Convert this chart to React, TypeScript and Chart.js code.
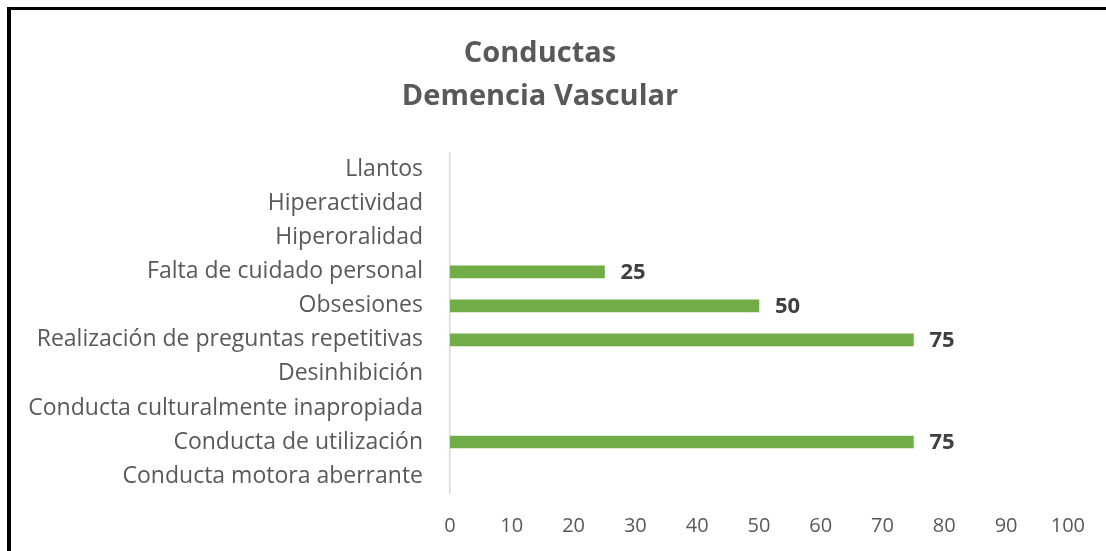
import React, { useEffect, useRef } from "react";
import { Chart, registerables } from "chart.js";

Chart.register(...registerables);

const categories = [
  "Llantos",
  "Hiperactividad",
  "Hiperoralidad",
  "Falta de cuidado personal",
  "Obsesiones",
  "Realización de preguntas repetitivas",
  "Desinhibición",
  "Conducta culturalmente inapropiada",
  "Conducta de utilización",
  "Conducta motora aberrante",
];
const values = [0, 0, 0, 25, 50, 75, 0, 0, 75, 0];
const titleLines = ["Conductas", "Demencia Vascular"];
const xMin = 0;
const xMax = 100;
const xStep = 10;

const FONT = "'Open Sans', Lato, sans-serif";

const labelPlugin = {
  id: "barValueLabels",
  afterDatasetsDraw(chart: any) {
    const ctx = chart.ctx;
    const meta = chart.getDatasetMeta(0);
    ctx.save();
    ctx.font = `bold 22px ${FONT}`;
    ctx.fillStyle = "#404040";
    ctx.textAlign = "left";
    ctx.textBaseline = "middle";
    meta.data.forEach((bar: any, i: number) => {
      const v = values[i];
      if (!v) return;
      ctx.fillText(String(v), bar.x + 16, bar.y + 1);
    });
    ctx.restore();
  },
};

export default function App() {
  const ref = useRef<HTMLCanvasElement>(null);
  useEffect(() => {
    document.body.style.margin = "0";
    const chart = new Chart(ref.current as HTMLCanvasElement, {
      type: "bar",
      data: {
        labels: categories,
        datasets: [
          {
            data: values.map((v) => (v === 0 ? null : v)),
            backgroundColor: "#70ad47",
            borderWidth: 0,
            barThickness: 12,
          },
        ],
      },
      options: {
        indexAxis: "y",
        animation: false,
        responsive: false,
        layout: { padding: { left: 10, right: 36, top: 0, bottom: 0 } },
        plugins: {
          legend: { display: false },
          tooltip: { enabled: false },
          title: {
            display: true,
            text: titleLines,
            color: "#595959",
            font: { family: FONT, size: 29, weight: "bold", lineHeight: 1.48 },
            padding: { top: 32, bottom: 35 },
          },
        },
        scales: {
          x: {
            min: xMin,
            max: xMax,
            ticks: {
              stepSize: xStep,
              color: "#595959",
              font: { family: FONT, size: 20 },
              padding: 21,
            },
            grid: { display: false, drawTicks: false },
            border: { display: false },
            afterFit(scale: any) {
              scale.height = 58;
            },
          },
          y: {
            ticks: {
              color: "#595959",
              font: { family: FONT, size: 23 },
              padding: 27,
              autoSkip: false,
            },
            grid: { display: false, drawTicks: false },
            border: { display: true, color: "#d9d9d9", width: 1.5 },
            afterFit(scale: any) {
              scale.width = 440;
            },
          },
        },
      },
      plugins: [labelPlugin],
    });
    return () => chart.destroy();
  }, []);

  return (
    <div
      style={{
        position: "fixed",
        left: 0,
        top: 0,
        width: 1106,
        height: 551,
        overflow: "hidden",
        background: "#fff",
      }}
    >
      <div
        style={{
          position: "absolute",
          left: 7,
          top: 7,
          width: 1200,
          height: 700,
          borderLeft: "4px solid #000",
          borderTop: "3px solid #000",
        }}
      />
      <canvas
        ref={ref}
        width={1106}
        height={551}
        style={{ position: "absolute", left: 0, top: 0 }}
      />
    </div>
  );
}
